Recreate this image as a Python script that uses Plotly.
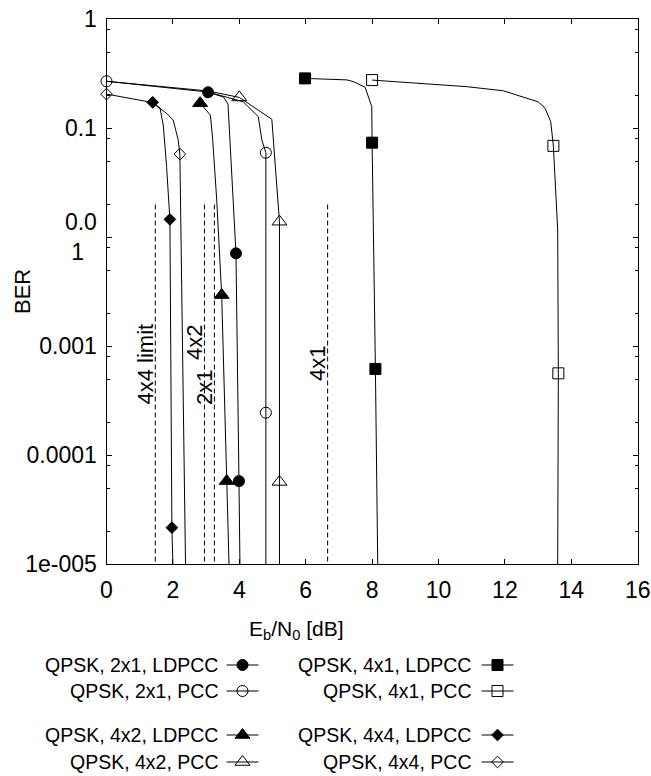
import numpy as np
import plotly.graph_objects as go

W, H = 651, 776
FONT = "Liberation Sans, Arial, Helvetica, sans-serif"

# ---------------- data ----------------
names = ["QPSK, 2x1, LDPCC", "QPSK, 2x1, PCC", "QPSK, 4x2, LDPCC", "QPSK, 4x2, PCC",
         "QPSK, 4x1, LDPCC", "QPSK, 4x1, PCC", "QPSK, 4x4, LDPCC", "QPSK, 4x4, PCC"]

x_2x1_ldpcc = [3.06, 3.52, 3.66, 3.72, 3.80, 3.90, 3.99, 4.02]
y_2x1_ldpcc = [0.214, 0.194, 0.167, 0.078, 0.0255, 0.00713, 5.8e-5, 1e-5]
m_2x1_ldpcc = [0, 5, 6]

x_2x1_pcc = [0.0, 3.06, 4.12, 4.57, 4.68, 4.80, 4.80, 4.80]
y_2x1_pcc = [0.27, 0.215, 0.175, 0.128, 0.078, 0.0597, 2.46e-4, 1e-5]
m_2x1_pcc = [0, 5, 6]

x_4x2_ldpcc = [2.82, 3.13, 3.20, 3.32, 3.47, 3.62, 3.69]
y_4x2_ldpcc = [0.17, 0.132, 0.078, 0.022, 0.00295, 5.8e-5, 1e-5]
m_4x2_ldpcc = [0, 4, 5]

x_4x2_pcc = [0.0, 3.06, 4.00, 4.98, 5.21, 5.21, 5.21]
y_4x2_pcc = [0.27, 0.22, 0.192, 0.121, 0.0139, 5.7e-5, 1e-5]
m_4x2_pcc = [2, 4, 5]

x_4x1_ldpcc = [5.98, 7.24, 7.44, 7.79, 7.99, 8.00, 8.10, 8.17]
y_4x1_ldpcc = [0.287, 0.278, 0.268, 0.238, 0.158, 0.0738, 6.2e-4, 1e-5]
m_4x1_ldpcc = [0, 5, 6]

x_4x1_pcc = [8.00, 9.74, 10.85, 11.95, 13.00, 13.21, 13.38, 13.46, 13.59, 13.61, 13.59]
y_4x1_pcc = [0.277, 0.255, 0.241, 0.221, 0.175, 0.153, 0.115, 0.069, 0.0117, 5.65e-4, 1e-5]
m_4x1_pcc = [0, 7, 9]

x_4x4_ldpcc = [1.39, 1.61, 1.71, 1.76, 1.81, 1.91, 1.97, 2.00]
y_4x4_ldpcc = [0.173, 0.154, 0.107, 0.0735, 0.0444, 0.0146, 2.17e-5, 1e-5]
m_4x4_ldpcc = [0, 5, 6]

x_4x4_pcc = [0.0, 1.36, 1.81, 2.01, 2.16, 2.21, 2.38]
y_4x4_pcc = [0.206, 0.173, 0.137, 0.119, 0.078, 0.058, 1e-5]
m_4x4_pcc = [0, 5]

series_x = [x_2x1_ldpcc, x_2x1_pcc, x_4x2_ldpcc, x_4x2_pcc, x_4x1_ldpcc, x_4x1_pcc, x_4x4_ldpcc, x_4x4_pcc]
series_y = [y_2x1_ldpcc, y_2x1_pcc, y_4x2_ldpcc, y_4x2_pcc, y_4x1_ldpcc, y_4x1_pcc, y_4x4_ldpcc, y_4x4_pcc]
series_m = [m_2x1_ldpcc, m_2x1_pcc, m_4x2_ldpcc, m_4x2_pcc, m_4x1_ldpcc, m_4x1_pcc, m_4x4_ldpcc, m_4x4_pcc]

# capacity limits (dashed lines)
limit_x = [1.47, 2.95, 3.25, 6.66]
limit_labels = ["4x4 limit", "4x2", "2x1", "4x1"]
limit_top = 0.02
limit_bottom = 1e-5

y_tickvals = [1e-5, 1e-4, 1e-3, 1e-2, 1e-1, 1]
y_ticktext = ["1e-005", "0.0001", "0.001", "0.0<br>1&nbsp;&nbsp;", "0.1", "1"]
x_tickvals = [0, 2, 4, 6, 8, 10, 12, 14, 16]

# ---------------- styles / layout ----------------
symbols = ["circle", "circle-open", "triangle-up", "triangle-up-open",
           "square", "square-open", "diamond", "diamond-open"]
msizes = [11, 11, 13, 13, 11, 11, 9, 9]
label_y = [6.85e-4, 1.08e-3, 4.19e-4, 6.97e-4]

PL, PR, PT, PB = 106.5, 637.7, 19.3, 564.3
xdom = [PL / W, PR / W]
ydom = [1 - PB / H, 1 - PT / H]

fig = go.Figure()

for xs, ys, mk, sym, ms in zip(series_x, series_y, series_m, symbols, msizes):
    fig.add_trace(go.Scatter(x=xs, y=ys, mode="lines",
                             line=dict(color="black", width=1), showlegend=False,
                             hoverinfo="skip"))
    fig.add_trace(go.Scatter(x=[xs[i] for i in mk], y=[ys[i] for i in mk], mode="markers",
                             marker=dict(symbol=sym, size=ms, color="black",
                                         line=dict(color="black", width=1)),
                             cliponaxis=False, showlegend=False))

for lx in limit_x:
    fig.add_trace(go.Scatter(x=[lx, lx], y=[limit_top, limit_bottom], mode="lines",
                             line=dict(color="black", width=1, dash="5px,3px"),
                             showlegend=False, hoverinfo="skip"))

annotations = []
for lx, lab, ly in zip(limit_x, limit_labels, label_y):
    annotations.append(dict(x=lx, y=np.log10(ly), xref="x", yref="y", text=lab,
                            textangle=-90, showarrow=False, xanchor="center",
                            yanchor="middle", xshift=-10,
                            font=dict(family=FONT, size=22, color="black")))

# custom legend (text on the left, sample on the right) on a pixel-space overlay axis
col_text_right = [220, 473]
col_sample_center = [242.5, 497.5]
row_y = [665, 691, 735, 762]
half_len = 16
for i, (name, sym, ms) in enumerate(zip(names, symbols, msizes)):
    c, r = i // 4, i % 4
    cx, cy = col_sample_center[c], row_y[r]
    fig.add_trace(go.Scatter(x=[cx - half_len, cx + half_len], y=[cy, cy], mode="lines",
                             line=dict(color="black", width=1.2), xaxis="x2", yaxis="y2",
                             showlegend=False, hoverinfo="skip"))
    fig.add_trace(go.Scatter(x=[cx], y=[cy], mode="markers", xaxis="x2", yaxis="y2",
                             marker=dict(symbol=sym, size=ms, color="black",
                                         line=dict(color="black", width=1)),
                             showlegend=False, hoverinfo="skip"))
    annotations.append(dict(x=col_text_right[c], y=cy, xref="x2", yref="y2", text=name,
                            showarrow=False, xanchor="right", yanchor="middle",
                            font=dict(family=FONT, size=19.5, color="black")))

# axis titles
annotations.append(dict(x=22.5, y=291.5, xref="x2", yref="y2", text="BER", textangle=-90,
                        showarrow=False, xanchor="center", yanchor="middle",
                        font=dict(family=FONT, size=22, color="black")))
annotations.append(dict(x=296.7, y=630, xref="x2", yref="y2",
                        text="E<sub>b</sub>/N<sub>0</sub> [dB]",
                        showarrow=False, xanchor="center", yanchor="middle",
                        font=dict(family=FONT, size=21, color="black")))

minor_vals = [m * 10.0 ** k for k in range(-5, 0) for m in (2, 5, 8)]

fig.update_layout(
    width=W, height=H,
    margin=dict(l=0, r=0, t=0, b=0),
    paper_bgcolor="white", plot_bgcolor="rgba(0,0,0,0)",
    font=dict(family=FONT, size=22, color="black"),
    showlegend=False,
    annotations=annotations,
    xaxis=dict(domain=xdom, range=[0, 16], tickmode="array", tickvals=x_tickvals,
               ticks="inside", ticklen=5, tickcolor="black", showline=True,
               linecolor="black", linewidth=1, mirror="ticks", showgrid=False,
               zeroline=False, automargin=False, ticklabelstandoff=5,
               tickfont=dict(family=FONT, size=23, color="black"), anchor="y"),
    yaxis=dict(domain=ydom, type="log", range=[-5, 0], tickmode="array",
               tickvals=y_tickvals, ticktext=y_ticktext,
               ticks="inside", ticklen=5, tickcolor="black", showline=True,
               linecolor="black", linewidth=1, mirror="ticks", showgrid=False,
               zeroline=False, automargin=False, ticklabelstandoff=4,
               minor=dict(tickmode="array", tickvals=minor_vals, ticks="inside",
                          ticklen=3, tickcolor="black", showgrid=False),
               tickfont=dict(family=FONT, size=23, color="black"), anchor="x"),
    xaxis2=dict(domain=[0, 1], range=[0, W], visible=False, anchor="y2",
                fixedrange=True),
    yaxis2=dict(domain=[0, 1], range=[H, 0], visible=False, anchor="x2",
                fixedrange=True),
)

fig.write_html("out.html",
               config={"displayModeBar": False},
               post_script="document.body.style.margin='0';"
                           "document.body.style.overflow='hidden';")
